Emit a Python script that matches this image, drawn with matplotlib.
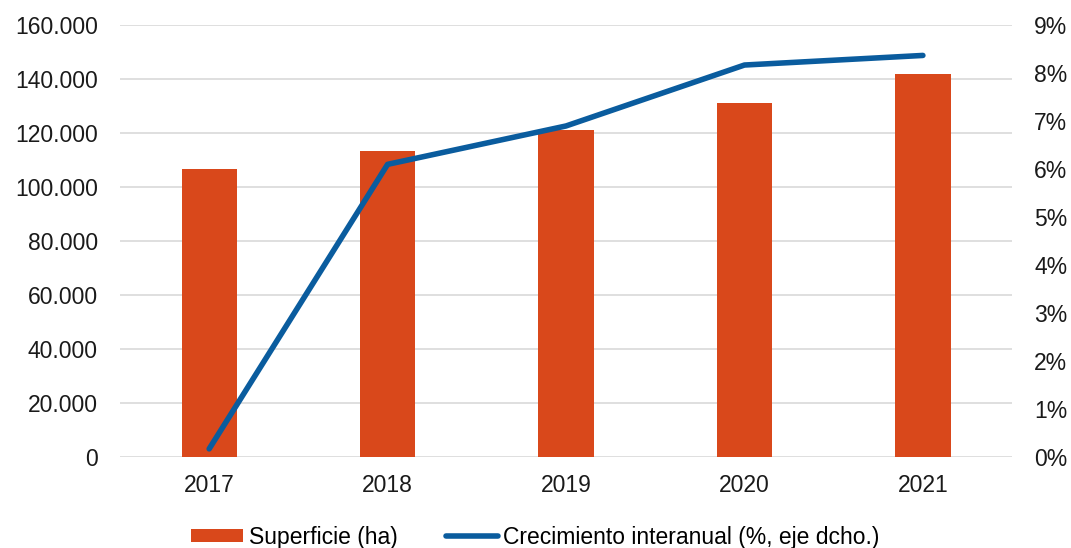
import numpy as np
import matplotlib.pyplot as plt
from matplotlib.ticker import FuncFormatter, MultipleLocator

plt.rcParams['font.family'] = ['Liberation Sans', 'DejaVu Sans']

years = ['2017', '2018', '2019', '2020', '2021']
superficie = [106700, 113300, 121100, 131100, 141900]   # ha
crecimiento = [0.17, 6.1, 6.9, 8.17, 8.37]               # %

bar_color = '#D9481B'
line_color = '#0A5C9E'
fs = 16.5

fig = plt.figure(figsize=(10.71, 5.48), dpi=100)
ax = fig.add_axes([0.112, 0.166, 0.833, 0.788])
x = np.arange(len(years))

bars = ax.bar(x, superficie, width=0.31, color=bar_color, zorder=2, label='Superficie (ha)')
ax.set_ylim(0, 160000)
ax.set_xlim(-0.5, len(years) - 0.5)
ax.yaxis.set_major_locator(MultipleLocator(20000))
ax.yaxis.set_major_formatter(FuncFormatter(lambda v, p: f'{int(v):,}'.replace(',', '.')))
ax.grid(axis='y', color='#D9D9D9', linewidth=1.2, zorder=0)
ax.set_xticks(x)
ax.set_xticklabels(years)

ax2 = ax.twinx()
line, = ax2.plot(x, crecimiento, color=line_color, linewidth=4, solid_capstyle='round',
                 zorder=3, label='Crecimiento interanual (%, eje dcho.)')
ax2.set_ylim(0, 9)
ax2.yaxis.set_major_locator(MultipleLocator(1))
ax2.yaxis.set_major_formatter(FuncFormatter(lambda v, p: f'{int(round(v))}%'))

for a in (ax, ax2):
    for s in a.spines.values():
        s.set_visible(False)
    a.tick_params(length=0, labelsize=fs, colors='#1a1a1a')
ax.tick_params(axis='y', pad=16)
ax.tick_params(axis='x', pad=12)
ax2.tick_params(axis='y', pad=16)

fig.legend([bars, line], [bars.get_label(), line.get_label()], loc='center',
           bbox_to_anchor=(0.5, 0.02), ncol=2, frameon=False, fontsize=fs,
           handlelength=2.26, handleheight=0.5, handletextpad=0.25, columnspacing=2.1)

fig.savefig('out.png', dpi=100)
